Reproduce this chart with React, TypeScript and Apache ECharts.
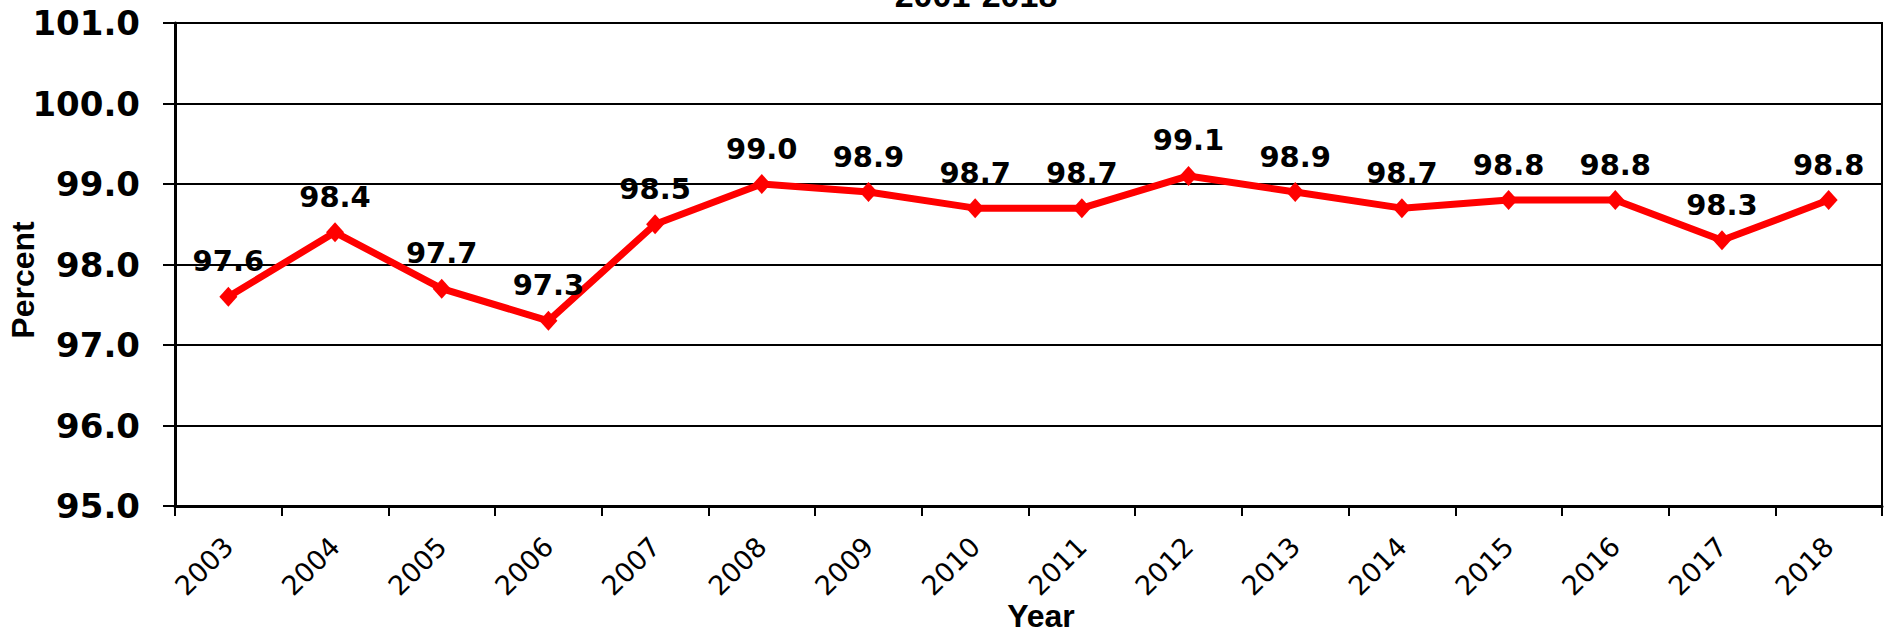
import React, { useEffect, useRef } from "react";
import * as echarts from "echarts";

const years = ["2003", "2004", "2005", "2006", "2007", "2008", "2009", "2010", "2011", "2012", "2013", "2014", "2015", "2016", "2017", "2018"];
const percentValues = [97.6, 98.4, 97.7, 97.3, 98.5, 99.0, 98.9, 98.7, 98.7, 99.1, 98.9, 98.7, 98.8, 98.8, 98.3, 98.8];
const titleText = "2001-2018";
const xAxisName = "Year";
const yAxisName = "Percent";

export default function App() {
  const ref = useRef<HTMLDivElement>(null);
  useEffect(() => {
    if (!ref.current) return;
    const chart = echarts.init(ref.current, undefined, { renderer: "svg" });
    chart.setOption({
      animation: false,
      backgroundColor: "#ffffff",
      grid: {
        left: 175,
        right: 13,
        top: 23,
        bottom: 133,
        show: true,
        borderColor: "#000",
        borderWidth: 2,
        backgroundColor: "transparent",
      },
      graphic: [
        {
          type: "text",
          x: 976,
          y: -5,
          style: {
            text: titleText,
            font: "bold 34px 'Liberation Sans', Arial, sans-serif",
            fill: "#000",
            align: "center",
            verticalAlign: "middle",
          },
        },
        {
          type: "text",
          x: 1041,
          y: 616,
          style: {
            text: xAxisName,
            font: "bold 32px 'Liberation Sans', Arial, sans-serif",
            fill: "#000",
            align: "center",
            verticalAlign: "middle",
          },
        },
        {
          type: "text",
          x: 23,
          y: 280,
          rotation: Math.PI / 2,
          style: {
            text: yAxisName,
            font: "bold 32px 'Liberation Sans', Arial, sans-serif",
            fill: "#000",
            align: "center",
            verticalAlign: "middle",
          },
        },
      ],
      xAxis: {
        type: "category",
        data: years,
        boundaryGap: true,
        axisLine: { show: true, lineStyle: { color: "#000", width: 3 } },
        axisTick: { show: true, alignWithLabel: false, length: 10, lineStyle: { color: "#000", width: 2 } },
        axisLabel: {
          rotate: 45,
          margin: 36,
          interval: 0,
          color: "#000",
          fontSize: 27,
          fontFamily: "'DejaVu Sans', Verdana, sans-serif",
        },
        splitLine: { show: false },
      },
      yAxis: {
        type: "value",
        min: 95,
        max: 101,
        interval: 1,
        axisLine: { show: true, lineStyle: { color: "#000", width: 3 } },
        axisTick: { show: true, length: 12, lineStyle: { color: "#000", width: 2 } },
        axisLabel: {
          margin: 35,
          color: "#000",
          fontSize: 34,
          fontWeight: "bold",
          fontFamily: "'DejaVu Sans', Verdana, sans-serif",
          formatter: (v: number) => v.toFixed(1),
        },
        splitLine: { show: true, lineStyle: { color: "#000", width: 2 } },
      },
      series: [
        {
          type: "line",
          data: percentValues,
          symbol: "diamond",
          symbolSize: [18, 20],
          lineStyle: { color: "#ff0000", width: 7 },
          itemStyle: { color: "#ff0000" },
          label: {
            show: true,
            position: "top",
            distance: 11,
            color: "#000",
            fontSize: 29,
            fontWeight: "bold",
            fontFamily: "'DejaVu Sans', Verdana, sans-serif",
            formatter: (p: any) => Number(p.value).toFixed(1),
          },
          z: 5,
        },
      ],
    });
    return () => chart.dispose();
  }, []);
  return (
    <div
      ref={ref}
      style={{ position: "absolute", left: 0, top: 0, width: 1895, height: 639 }}
    />
  );
}
